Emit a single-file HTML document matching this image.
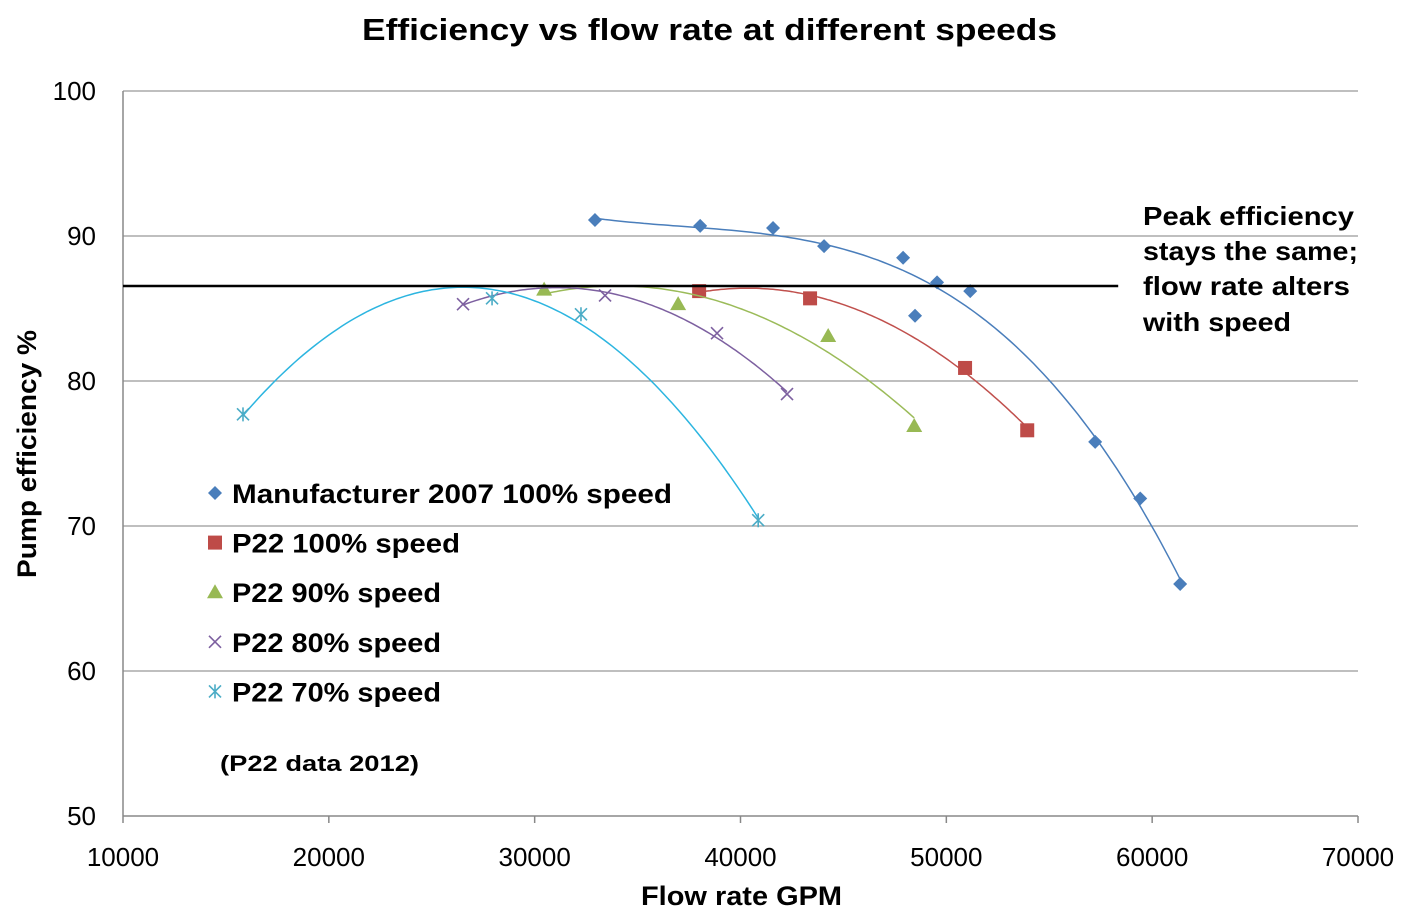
<!DOCTYPE html>
<html><head><meta charset="utf-8"><style>
body{margin:0;background:#fff;font-family:"Liberation Sans",sans-serif}
svg text{font-family:"Liberation Sans",sans-serif}
</style></head><body>
<svg id="chart" width="1414" height="908" viewBox="0 0 1414 908">
<text x="362" y="40" font-size="31" font-weight="bold" textLength="695" lengthAdjust="spacingAndGlyphs">Efficiency vs flow rate at different speeds</text>
<g id="grid"></g><g id="axes"></g><g id="series"></g>
<text transform="translate(36,578) rotate(-90)" font-size="27" font-weight="bold" textLength="248" lengthAdjust="spacingAndGlyphs">Pump efficiency %</text>
<text x="641" y="905" font-size="27" font-weight="bold" textLength="201" lengthAdjust="spacingAndGlyphs">Flow rate GPM</text>
<g font-size="26" font-weight="bold">
<text x="1143" y="225" textLength="211" lengthAdjust="spacingAndGlyphs">Peak efficiency</text>
<text x="1143" y="260" textLength="215" lengthAdjust="spacingAndGlyphs">stays the same;</text>
<text x="1143" y="295" textLength="207" lengthAdjust="spacingAndGlyphs">flow rate alters</text>
<text x="1143" y="331" textLength="148" lengthAdjust="spacingAndGlyphs">with speed</text></g>
<g id="legend"></g>
<text x="220" y="771" font-size="22" font-weight="bold" textLength="199" lengthAdjust="spacingAndGlyphs">(P22 data 2012)</text>
</svg>
<script>
const xTicks=[10000,20000,30000,40000,50000,60000,70000];
const yTicks=[50,60,70,80,90,100];
const seriesNames=["Manufacturer 2007 100% speed","P22 100% speed","P22 90% speed","P22 80% speed","P22 70% speed"];
const mfrX=[32930,38040,41580,44060,47900,49550,51160,48480,57230,59420,61360];
const mfrY=[91.1,90.7,90.55,89.3,88.5,86.8,86.2,84.5,75.8,71.9,66.0];
const p100X=[37990,43380,50910,53930];
const p100Y=[86.2,85.7,80.9,76.6];
const p90X=[30460,36970,44260,48440];
const p90Y=[86.3,85.3,83.1,76.9];
const p80X=[26520,33420,38860,42260];
const p80Y=[85.3,85.9,83.3,79.1];
const p70X=[15830,27930,32250,40860];
const p70Y=[77.7,85.7,84.6,70.4];
const peakLine=[10000,58350,86.55];
const legendWidths=[440,228,209,209,209];

const NS="http://www.w3.org/2000/svg";
const X=v=>123+(v-10000)/60000*1235;
const Y=v=>816-(v-50)/50*725;
function mk(tag,attrs,parent){const e=document.createElementNS(NS,tag);for(const k in attrs)e.setAttribute(k,attrs[k]);parent.appendChild(e);return e;}
const grid=document.getElementById('grid'),axes=document.getElementById('axes'),ser=document.getElementById('series'),leg=document.getElementById('legend');
yTicks.forEach(t=>{
 if(t>50){const l=mk('line',{x1:123,x2:1358,y1:Y(t),y2:Y(t),stroke:'#999','stroke-width':1.3},grid);
 
 }
 const tx=mk('text',{x:96,y:Y(t)+9,'text-anchor':'end','font-size':26},axes);tx.textContent=t;
 
 
});
const ax=mk('line',{x1:123,x2:1358,y1:816,y2:816,stroke:'#888','stroke-width':1.5},axes);


const ay=mk('line',{x1:123,x2:123,y1:91,y2:816,stroke:'#888','stroke-width':1.5},axes);


xTicks.forEach(t=>{
 mk('line',{x1:X(t),x2:X(t),y1:816,y2:823,stroke:'#888','stroke-width':1.5},axes);
 const tx=mk('text',{x:X(t),y:866,'text-anchor':'middle','font-size':26},axes);tx.textContent=t;
 
 
});
function fit(xs,ys,deg){const n=deg+1,A=[],b=[];const s=v=>(v-40000)/10000;
 for(let i=0;i<n;i++){A.push(new Array(n).fill(0));b.push(0);}
 xs.forEach((x,k)=>{const u=s(x);for(let i=0;i<n;i++){b[i]+=ys[k]*u**i;for(let j=0;j<n;j++)A[i][j]+=u**(i+j);}});
 for(let i=0;i<n;i++){for(let r=i+1;r<n;r++){const f=A[r][i]/A[i][i];for(let c=i;c<n;c++)A[r][c]-=f*A[i][c];b[r]-=f*b[i];}}
 const c=new Array(n);for(let i=n-1;i>=0;i--){let v=b[i];for(let j=i+1;j<n;j++)v-=A[i][j]*c[j];c[i]=v/A[i][i];}
 return x=>{const u=s(x);let v=0;for(let i=0;i<n;i++)v+=c[i]*u**i;return v;};}
const defs=[
 {x:mfrX,y:mfrY,deg:3,col:'#4a7ebb',line:'#4a7ebb',m:'diamond',name:'manufacturer-100'},
 {x:p100X,y:p100Y,deg:2,col:'#be4b48',line:'#c0504d',m:'square',name:'p22-100'},
 {x:p90X,y:p90Y,deg:2,col:'#98b954',line:'#9bbb59',m:'triangle',name:'p22-90'},
 {x:p80X,y:p80Y,deg:2,col:'#7d60a0',line:'#7d60a0',m:'x',name:'p22-80'},
 {x:p70X,y:p70Y,deg:2,col:'#4bacc6',line:'#2cb5e0',m:'star',name:'p22-70'}];
function marker(type,cx,cy,col,parent){
 if(type==='diamond')return mk('path',{d:`M${cx} ${cy-7}L${cx+7} ${cy}L${cx} ${cy+7}L${cx-7} ${cy}Z`,fill:col},parent);
 if(type==='square')return mk('rect',{x:cx-7,y:cy-7,width:14,height:14,fill:col},parent);
 if(type==='triangle')return mk('path',{d:`M${cx} ${cy-8}L${cx+8} ${cy+6}L${cx-8} ${cy+6}Z`,fill:col},parent);
 if(type==='x')return mk('path',{d:`M${cx-6} ${cy-6}L${cx+6} ${cy+6}M${cx+6} ${cy-6}L${cx-6} ${cy+6}`,stroke:col,'stroke-width':1.6,fill:'none'},parent);
 return mk('path',{d:`M${cx-6} ${cy-6}L${cx+6} ${cy+6}M${cx+6} ${cy-6}L${cx-6} ${cy+6}M${cx} ${cy-7}L${cx} ${cy+7}`,stroke:col,'stroke-width':1.6,fill:'none'},parent);}
defs.forEach(d=>{
 const f=fit(d.x,d.y,d.deg);const lo=Math.min(...d.x),hi=Math.max(...d.x);let p='';
 for(let i=0;i<=120;i++){const v=lo+(hi-lo)*i/120;p+=(i?'L':'M')+X(v).toFixed(1)+' '+Y(f(v)).toFixed(1);}
 const tl=mk('path',{d:p,stroke:d.line,'stroke-width':1.5,fill:'none'},ser);
 
 
 d.x.forEach((x,i)=>{const m=marker(d.m,X(x),Y(d.y[i]),d.col,ser);
  
  });
});
const pl=mk('line',{x1:X(peakLine[0]),x2:X(peakLine[1]),y1:Y(peakLine[2]),y2:Y(peakLine[2]),stroke:'#000','stroke-width':2.5},ser);


defs.forEach((d,i)=>{const cy=493+i*49.6;
 const m=marker(d.m,215,cy,d.col,leg);
 
 
 const t=mk('text',{x:232,y:cy+10,'font-size':27,'font-weight':'bold',textLength:legendWidths[i],lengthAdjust:'spacingAndGlyphs'},leg);t.textContent=seriesNames[i];
 
 });
</script>
</body></html>
